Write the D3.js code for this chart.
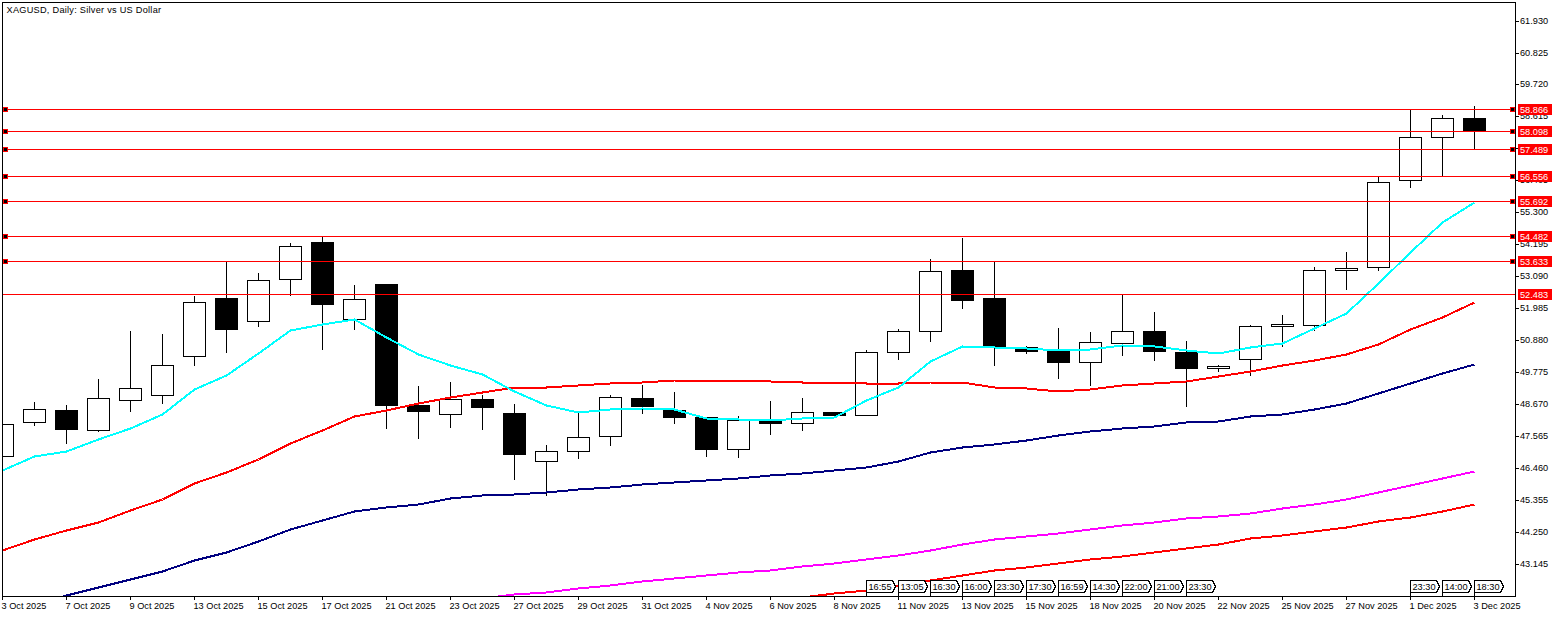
<!DOCTYPE html>
<html lang="en">
    <head>
        <title>XAGUSD</title>
        <meta charset="utf-8" />
        <style>
            html, body {
                margin: 0;
                padding: 0;
                background: #fff;
                overflow: hidden;
            }

            text {
                font: 9.2px "Liberation Sans", Arial, sans-serif;
                fill: #000;
            }

            .axis path,
            .axis line {
                stroke: #000;
                shape-rendering: crispEdges;
            }
        </style>
        <script src="https://cdn.jsdelivr.net/npm/d3@7"></script>
    </head>
    <body>
        <div id="chart"></div>
        <script>
            var title = "XAGUSD, Daily:  Silver vs US Dollar";

            var dates = ["3 Oct 2025", "6 Oct 2025", "7 Oct 2025", "8 Oct 2025", "9 Oct 2025", "10 Oct 2025",
                "13 Oct 2025", "14 Oct 2025", "15 Oct 2025", "16 Oct 2025", "17 Oct 2025", "20 Oct 2025",
                "21 Oct 2025", "22 Oct 2025", "23 Oct 2025", "24 Oct 2025", "27 Oct 2025", "28 Oct 2025",
                "29 Oct 2025", "30 Oct 2025", "31 Oct 2025", "3 Nov 2025", "4 Nov 2025", "5 Nov 2025",
                "6 Nov 2025", "7 Nov 2025", "8 Nov 2025", "10 Nov 2025", "11 Nov 2025", "12 Nov 2025",
                "13 Nov 2025", "14 Nov 2025", "15 Nov 2025", "17 Nov 2025", "18 Nov 2025", "19 Nov 2025",
                "20 Nov 2025", "21 Nov 2025", "22 Nov 2025", "24 Nov 2025", "25 Nov 2025", "26 Nov 2025",
                "27 Nov 2025", "28 Nov 2025", "1 Dec 2025", "2 Dec 2025", "3 Dec 2025"];

            var open = [46.883, 48.059, 48.475, 47.783, 48.821, 48.993, 50.343, 52.349, 51.553, 53.006, 54.262, 51.622,
                52.809, 48.658, 48.336, 48.866, 48.381, 46.711, 47.057, 47.575, 48.9, 48.475, 48.233, 47.126,
                48.129, 48.025, 48.416, 48.302, 50.481, 51.207, 53.293, 52.325, 50.664, 50.502, 50.135, 50.792,
                51.218, 50.491, 49.927, 50.239, 51.38, 51.415, 53.317, 53.421, 56.43, 57.918, 58.575];
            var high = [47.99, 48.762, 48.658, 49.557, 51.218, 51.114, 52.394, 53.615, 53.189, 54.227, 54.469, 52.774,
                52.809, 49.315, 49.454, 49.004, 48.693, 47.274, 48.416, 49.004, 49.35, 49.108, 48.233, 48.278,
                48.796, 48.9, 48.416, 50.55, 51.263, 53.674, 54.4, 53.57, 50.699, 51.321, 51.183, 52.473,
                51.875, 50.872, 50.042, 51.425, 51.771, 53.397, 53.916, 56.569, 58.872, 58.655, 58.966];
            var low = [46.883, 47.942, 47.319, 47.735, 48.426, 48.703, 50.017, 50.467, 51.366, 52.439, 50.571, 51.263,
                47.838, 47.492, 47.873, 47.804, 46.074, 45.521, 46.801, 47.25, 48.357, 48.011, 46.87, 46.835,
                47.631, 47.769, 48.253, 48.302, 50.249, 50.848, 52.013, 50.017, 50.457, 49.568, 49.326, 50.363,
                50.19, 48.599, 49.81, 49.672, 50.675, 51.252, 52.67, 53.293, 56.174, 56.569, 57.503];
            var close = [47.99, 48.509, 47.804, 48.89, 49.236, 50.031, 52.21, 51.263, 52.971, 54.147, 52.127, 52.314,
                48.634, 48.426, 48.855, 48.565, 46.939, 47.057, 47.541, 48.924, 48.599, 48.219, 47.112, 48.129,
                48.011, 48.406, 48.288, 50.481, 51.207, 53.283, 52.266, 50.675, 50.502, 50.121, 50.827, 51.207,
                50.502, 49.914, 49.997, 51.38, 51.449, 53.317, 53.386, 56.361, 57.918, 58.575, 58.136];

            var maCyan = [46.39, 46.87, 47.04, 47.47, 47.86, 48.34, 49.21, 49.67, 50.45, 51.25, 51.45, 51.60,
                51.00, 50.39, 50.04, 49.73, 49.12, 48.63, 48.42, 48.51, 48.53, 48.49, 48.18, 48.15,
                48.14, 48.21, 48.22, 48.83, 49.26, 50.18, 50.68, 50.66, 50.62, 50.54, 50.58, 50.71,
                50.70, 50.53, 50.43, 50.65, 50.78, 51.32, 51.83, 52.87, 53.93, 54.98, 55.66];
            var maRed = [43.62, 44.03, 44.31, 44.59, 45.03, 45.40, 45.95, 46.32, 46.78, 47.32, 47.79, 48.27,
                48.46, 48.73, 48.91, 49.11, 49.25, 49.27, 49.32, 49.41, 49.45, 49.50, 49.50, 49.50,
                49.48, 49.44, 49.43, 49.42, 49.40, 49.45, 49.45, 49.26, 49.24, 49.12, 49.20, 49.35,
                49.42, 49.49, 49.66, 49.82, 50.01, 50.19, 50.41, 50.76, 51.28, 51.70, 52.21];
            var maNavy = [41.33, 41.74, 42.09, 42.37, 42.63, 42.91, 43.30, 43.58, 43.93, 44.36, 44.68, 44.97,
                45.12, 45.22, 45.43, 45.52, 45.58, 45.65, 45.73, 45.82, 45.92, 46.00, 46.04, 46.13,
                46.21, 46.29, 46.41, 46.51, 46.70, 47.01, 47.21, 47.31, 47.42, 47.60, 47.74, 47.84,
                47.93, 48.05, 48.08, 48.25, 48.34, 48.52, 48.72, 49.07, 49.41, 49.75, 50.05];
            var maMagenta = [null, null, null, null, null, null, null, null, null, null, null, null,
                null, null, 41.84, 41.98, 42.12, 42.18, 42.32, 42.41, 42.56, 42.68, 42.77, 42.86,
                42.96, 43.08, 43.20, 43.32, 43.46, 43.65, 43.85, 44.00, 44.13, 44.23, 44.37, 44.50,
                44.61, 44.73, 44.82, 44.91, 45.09, 45.23, 45.40, 45.65, 45.88, 46.11, 46.35];
            var maRedLow = [null, null, null, null, null, null, null, null, null, null, null, null,
                null, null, null, null, null, null, null, null, null, null, null, null,
                41.77, 42.00, 42.16, 42.24, 42.41, 42.60, 42.77, 42.93, 43.05, 43.18, 43.32, 43.43,
                43.57, 43.71, 43.85, 44.05, 44.15, 44.28, 44.43, 44.62, 44.79, 44.99, 45.21];

            var priceTicks = [61.93, 60.825, 59.72, 58.615, 57.51, 56.405, 55.3, 54.195, 53.09,
                51.985, 50.88, 49.775, 48.67, 47.565, 46.46, 45.355, 44.25, 43.145];

            // horizontal levels, the last one has no end markers
            var levels = [58.866, 58.098, 57.489, 56.556, 55.692, 54.482, 53.633, 52.483];
            var levelMarked = [true, true, true, true, true, true, true, false];

            var tagBars = [27, 28, 29, 30, 31, 32, 33, 34, 35, 36, 37, 44, 45, 46];
            var tagTimes = ["16:55", "13:05", "16:30", "16:00", "23:30", "17:30", "16:59", "14:30", "22:00", "21:00", "23:30",
                "23:30", "14:00", "18:30"];

            var width = 1563, height = 617;
            var left = 2, right = 1515, top_ = 2, bottom = 596;

            var svg = d3.select("#chart").append("svg")
                .attr("width", width)
                .attr("height", height)
                .style("display", "block");

            var x = d3.scaleLinear().domain([0, dates.length - 1]).rangeRound([left, 1474]);
            var y = d3.scaleLinear().domain([62.57, 42.045]).rangeRound([top_, bottom]);

            svg.append("clipPath").attr("id", "plot")
                .append("rect")
                .attr("x", left)
                .attr("y", top_)
                .attr("width", right - left)
                .attr("height", bottom - top_);

            var plot = svg.append("g").attr("clip-path", "url(#plot)");

            // candles
            var bars = d3.range(dates.length);
            var candles = plot.append("g").selectAll("g")
                .data(bars).enter()
                .append("g")
                .style("shape-rendering", "crispEdges");

            candles.append("line")
                .attr("x1", function (i) { return x(i) + 0.5; })
                .attr("x2", function (i) { return x(i) + 0.5; })
                .attr("y1", function (i) { return y(high[i]); })
                .attr("y2", function (i) { return y(low[i]) + 1; })
                .attr("stroke", "#000");

            candles.append("rect")
                .attr("x", function (i) { return x(i) - 10.5; })
                .attr("y", function (i) { return y(Math.max(open[i], close[i])) + 0.5; })
                .attr("width", 22)
                .attr("height", function (i) { return y(Math.min(open[i], close[i])) - y(Math.max(open[i], close[i])); })
                .attr("fill", function (i) { return close[i] >= open[i] ? "#fff" : "#000"; })
                .attr("stroke", "#000");

            // moving averages
            var maLine = d3.line()
                .defined(function (d) { return d !== null; })
                .x(function (d, i) { return x(i) + 0.5; })
                .y(function (d) { return y(d) + 0.5; });

            var maSeries = [
                { values: maRedLow, color: "#ff0000" },
                { values: maMagenta, color: "#ff00ff" },
                { values: maNavy, color: "#000080" },
                { values: maRed, color: "#ff0000" },
                { values: maCyan, color: "#00ffff" }
            ];

            plot.append("g").selectAll("path")
                .data(maSeries).enter()
                .append("path")
                .attr("d", function (d) { return maLine(d.values); })
                .attr("fill", "none")
                .attr("stroke", function (d) { return d.color; })
                .attr("stroke-width", 2)
                .style("shape-rendering", "crispEdges");

            // axes
            var yAxis = d3.axisRight(y)
                .tickValues(priceTicks)
                .tickSize(4)
                .tickPadding(1)
                .tickFormat(d3.format(".3f"));

            var gy = svg.append("g")
                .attr("class", "axis")
                .attr("transform", "translate(" + right + ",0)")
                .call(yAxis);
            gy.select(".domain").remove();
            gy.selectAll("text").style("font", null);

            var xAxis = d3.axisBottom(x)
                .tickValues(bars.filter(function (i) { return i % 2 === 0; }))
                .tickSize(4)
                .tickPadding(2)
                .tickFormat(function (i) { return dates[i]; });

            var gx = svg.append("g")
                .attr("class", "axis")
                .attr("transform", "translate(0," + bottom + ")")
                .call(xAxis);
            gx.select(".domain").remove();
            gx.selectAll("text")
                .attr("text-anchor", "start")
                .attr("x", -1);

            // frame
            svg.append("rect")
                .attr("x", left + 0.5)
                .attr("y", top_ + 0.5)
                .attr("width", right - left)
                .attr("height", bottom - top_)
                .attr("fill", "none")
                .attr("stroke", "#000")
                .style("shape-rendering", "crispEdges");

            // level lines and their labels
            var levelGroup = svg.append("g").selectAll("g")
                .data(levels).enter()
                .append("g")
                .attr("transform", function (d) { return "translate(0," + (y(d) + 0.5) + ")"; });

            levelGroup.append("line")
                .attr("x1", left + 1)
                .attr("x2", right)
                .attr("stroke", "#ff0000")
                .style("shape-rendering", "crispEdges");

            levelGroup.filter(function (d, i) { return levelMarked[i]; })
                .selectAll("rect.mark")
                .data([3, 1510]).enter()
                .append("rect")
                .attr("class", "mark")
                .attr("x", function (d) { return d + 0.5; })
                .attr("y", -2)
                .attr("width", 4)
                .attr("height", 4)
                .attr("fill", "#000")
                .attr("stroke", "#ff0000")
                .style("shape-rendering", "crispEdges");

            levelGroup.append("rect")
                .attr("x", 1518)
                .attr("y", -5.5)
                .attr("width", 34)
                .attr("height", 11)
                .attr("fill", "#ff0000")
                .style("shape-rendering", "crispEdges");

            levelGroup.append("text")
                .attr("x", 1520)
                .attr("y", 3.5)
                .style("fill", "#fff")
                .text(function (d) { return d3.format(".3f")(d); });

            // time tags on the bottom of the plot
            var tags = svg.append("g").selectAll("g")
                .data(tagBars).enter()
                .append("g")
                .attr("transform", function (d) { return "translate(" + (x(d) + 0.5) + ",0)"; });

            tags.append("path")
                .attr("d", "M0,596V580.5H26L29,586.5L26,592.5H0")
                .attr("fill", "#fff")
                .attr("stroke", "#000")
                .style("shape-rendering", "crispEdges");

            tags.append("text")
                .attr("x", 2)
                .attr("y", 590)
                .text(function (d, i) { return tagTimes[i]; });

            svg.append("text")
                .attr("x", 6.5)
                .attr("y", 12.5)
                .style("letter-spacing", "0.26px")
                .text(title);
        </script>
    </body>
</html>
